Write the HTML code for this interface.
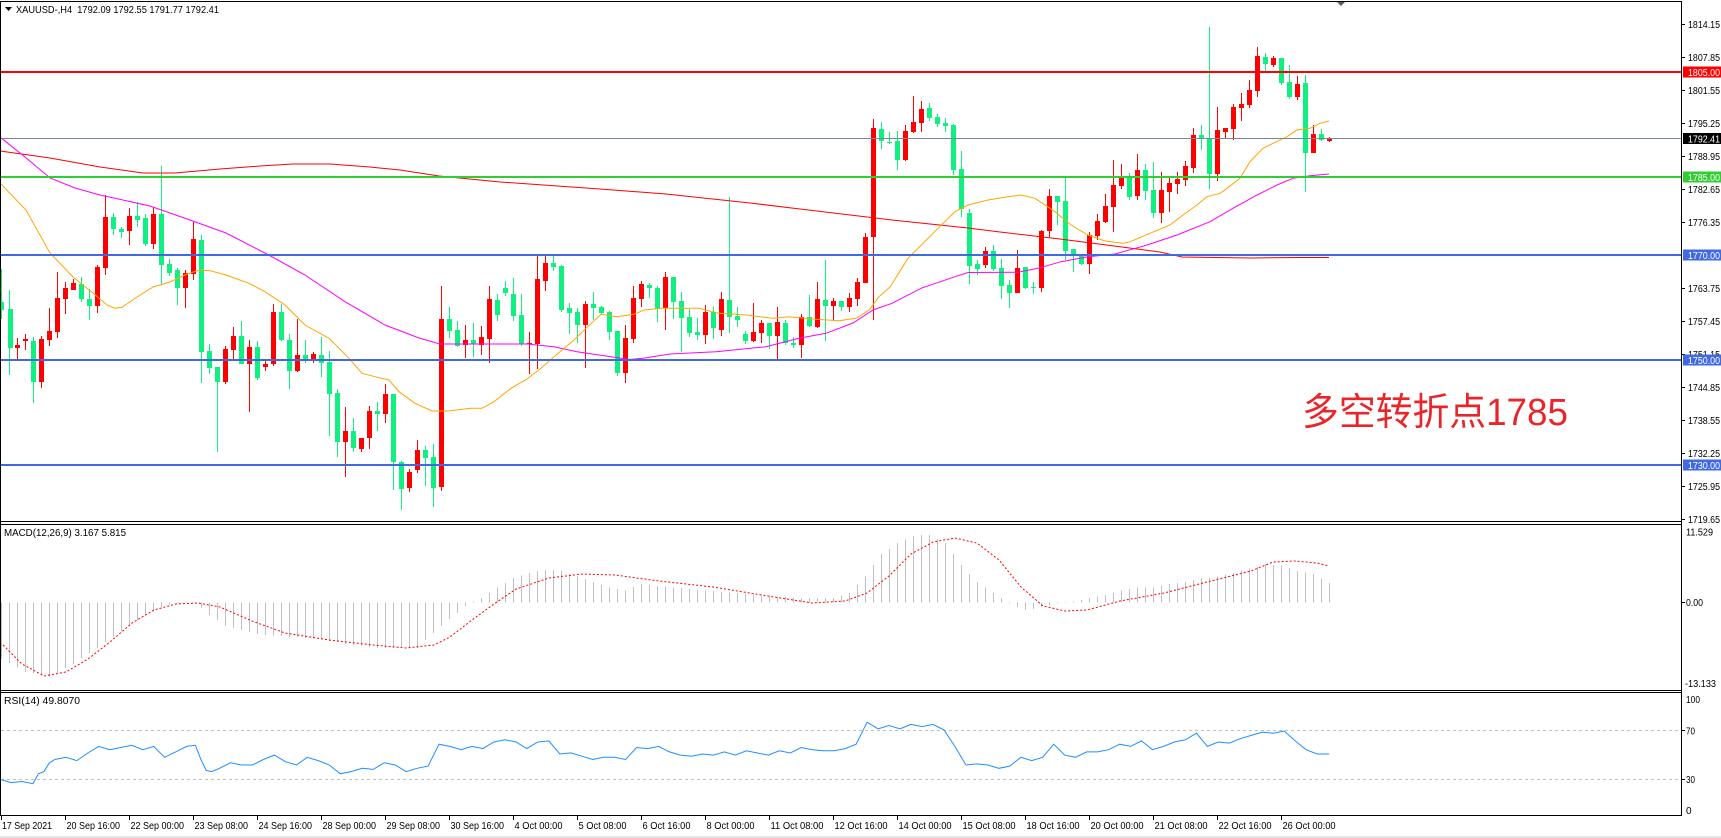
<!DOCTYPE html>
<html><head><meta charset="utf-8"><style>
html,body{margin:0;padding:0;background:#fff;}
svg{display:block;}
text{font-family:"Liberation Sans",sans-serif;font-size:10px;fill:#000;}
</style></head><body>
<svg width="1721" height="838" viewBox="0 0 1721 838" xmlns="http://www.w3.org/2000/svg">
<rect x="0" y="0" width="1721" height="838" fill="#fff"/>
<rect x="0" y="836" width="1721" height="2" fill="#e6e6e6"/>
<defs>
<clipPath id="cm"><rect x="1" y="2" width="1680" height="519"/></clipPath>
<clipPath id="cd"><rect x="1" y="525" width="1680" height="165"/></clipPath>
<clipPath id="cr"><rect x="1" y="693" width="1680" height="122"/></clipPath>
</defs>

<!-- MAIN PANE -->
<g clip-path="url(#cm)" shape-rendering="crispEdges">
<!-- green (down) candles -->
<path fill="none" stroke="#10F080" stroke-width="1" d="M1.5 269V319M9.5 290V375M33.5 337V403M81.5 277V302M89.5 289V320M113.5 213V235M121.5 227V238M137.5 202V227M145.5 214V246M161.5 166V285M169.5 259V276M177.5 268V305M201.5 235V383M209.5 344V374M217.5 367V452M241.5 321V364M257.5 341V380M281.5 304V341M289.5 334V389M305.5 340V363M321.5 337V377M329.5 351V436M337.5 389V457M353.5 418V452M377.5 402V431M393.5 394V490M401.5 461V510M425.5 446V486M433.5 444V507M449.5 307V338M457.5 321V347M473.5 323V357M497.5 294V321M505.5 281V296M513.5 278V321M521.5 294V346M553.5 256V271M561.5 265V312M569.5 303V334M577.5 308V343M593.5 292V320M601.5 306V314M609.5 311V340M617.5 331V376M649.5 283V298M657.5 286V322M673.5 277V319M681.5 292V352M689.5 309V337M697.5 318V340M713.5 307V339M729.5 197V333M737.5 307V327M745.5 331V344M769.5 323V349M785.5 320V345M793.5 337V348M809.5 295V327M825.5 260V341M841.5 301V311M881.5 122V149M889.5 132V144M897.5 131V170M929.5 103V121M937.5 114V127M945.5 118V132M953.5 124V175M961.5 151V217M969.5 209V284M977.5 260V275M993.5 245V271M1001.5 259V299M1009.5 280V308M1025.5 267V289M1033.5 282V294M1057.5 196V225M1065.5 177V260M1073.5 249V272M1081.5 256V265M1129.5 173V200M1145.5 164V200M1153.5 162V218M1201.5 125V150M1209.5 27V189M1265.5 53V71M1281.5 58V85M1289.5 65V99M1305.5 75V192M1321.5 129V141"/>
<path fill="#10F080" d="M-1 302h5v8h-5zM8 309h5v39h-5zM31 341h5v41h-5zM79 284h5v15h-5zM87 299h5v7h-5zM111 217h5v12h-5zM119 229h5v3h-5zM135 216h5v4h-5zM143 218h5v26h-5zM159 214h5v51h-5zM167 264h5v9h-5zM175 270h5v18h-5zM199 240h5v112h-5zM207 351h5v17h-5zM215 367h5v15h-5zM239 336h5v28h-5zM255 347h5v31h-5zM279 312h5v28h-5zM287 340h5v31h-5zM303 355h5v5h-5zM319 355h5v8h-5zM327 362h5v32h-5zM335 393h5v49h-5zM351 431h5v17h-5zM375 411h5v3h-5zM391 394h5v68h-5zM399 462h5v27h-5zM423 450h5v8h-5zM431 457h5v31h-5zM447 319h5v12h-5zM455 330h5v16h-5zM471 340h5v4h-5zM495 300h5v15h-5zM503 288h5v5h-5zM511 294h5v22h-5zM519 315h5v29h-5zM551 263h5v4h-5zM559 266h5v44h-5zM567 308h5v5h-5zM575 312h5v13h-5zM591 304h5v4h-5zM599 307h5v6h-5zM607 312h5v20h-5zM615 331h5v42h-5zM647 285h5v3h-5zM655 288h5v21h-5zM671 277h5v25h-5zM679 301h5v17h-5zM687 317h5v16h-5zM695 332h5v3h-5zM711 312h5v16h-5zM727 300h5v17h-5zM735 316h5v4h-5zM743 334h5v7h-5zM767 323h5v13h-5zM783 323h5v20h-5zM791 343h5v2h-5zM807 317h5v9h-5zM823 300h5v6h-5zM839 301h5v6h-5zM879 129h5v12h-5zM887 142h5v1h-5zM895 141h5v19h-5zM927 108h5v10h-5zM935 117h5v7h-5zM943 123h5v3h-5zM951 125h5v45h-5zM959 169h5v40h-5zM967 213h5v53h-5zM975 264h5v5h-5zM991 251h5v18h-5zM999 268h5v18h-5zM1007 285h5v8h-5zM1023 267h5v21h-5zM1031 287h5v1h-5zM1055 196h5v6h-5zM1063 201h5v50h-5zM1071 249h5v5h-5zM1079 256h5v8h-5zM1127 177h5v20h-5zM1143 170h5v21h-5zM1151 190h5v23h-5zM1199 135h5v4h-5zM1207 138h5v36h-5zM1263 57h5v7h-5zM1279 58h5v25h-5zM1287 82h5v15h-5zM1303 83h5v70h-5zM1319 134h5v6h-5z"/>
<!-- red (up) candles -->
<path fill="none" stroke="#FF0000" stroke-width="1" d="M17.5 338V359M25.5 334V350M41.5 336V388M49.5 308V346M57.5 272V338M65.5 282V314M73.5 279V290M97.5 265V313M105.5 195V275M129.5 208V245M153.5 207V249M185.5 270V308M193.5 222V280M225.5 346V384M233.5 327V359M249.5 340V412M265.5 361V371M273.5 304V366M297.5 319V372M313.5 352V363M345.5 407V477M361.5 438V452M369.5 406V449M385.5 384V423M409.5 469V492M417.5 440V473M441.5 286V491M465.5 325V358M481.5 326V355M489.5 286V363M529.5 332V374M537.5 255V369M545.5 255V291M585.5 301V368M625.5 325V383M633.5 286V343M641.5 281V307M665.5 272V330M705.5 305V344M721.5 292V336M753.5 303V342M761.5 320V343M777.5 307V359M801.5 314V358M817.5 282V328M833.5 298V320M849.5 293V312M857.5 278V306M865.5 233V283M873.5 119V320M905.5 125V161M913.5 96V133M921.5 101V132M985.5 247V268M1017.5 250V293M1041.5 230V292M1049.5 189V237M1089.5 232V274M1097.5 214V240M1105.5 194V223M1113.5 160V232M1121.5 164V189M1137.5 154V200M1161.5 172V223M1169.5 177V212M1177.5 172V194M1185.5 161V186M1193.5 128V173M1217.5 107V181M1225.5 128V139M1233.5 104V140M1241.5 93V121M1249.5 80V108M1257.5 47V97M1273.5 56V67M1297.5 76V100M1313.5 125V153M1329.5 137V142"/>
<path fill="#FF0000" d="M15 345h5v3h-5zM23 339h5v2h-5zM39 339h5v43h-5zM47 331h5v9h-5zM55 298h5v34h-5zM63 288h5v11h-5zM71 283h5v7h-5zM95 267h5v39h-5zM103 217h5v51h-5zM127 216h5v15h-5zM151 214h5v30h-5zM183 273h5v15h-5zM191 239h5v35h-5zM223 349h5v33h-5zM231 336h5v14h-5zM247 347h5v17h-5zM263 364h5v3h-5zM271 312h5v52h-5zM295 355h5v16h-5zM311 354h5v5h-5zM343 431h5v11h-5zM359 438h5v11h-5zM367 411h5v27h-5zM383 394h5v20h-5zM407 472h5v16h-5zM415 450h5v20h-5zM439 319h5v168h-5zM463 340h5v5h-5zM479 337h5v8h-5zM487 299h5v40h-5zM527 343h5v1h-5zM535 279h5v65h-5zM543 263h5v18h-5zM583 304h5v21h-5zM623 338h5v35h-5zM631 298h5v41h-5zM639 284h5v15h-5zM663 277h5v31h-5zM703 312h5v23h-5zM719 299h5v31h-5zM751 332h5v9h-5zM759 323h5v10h-5zM775 322h5v14h-5zM799 317h5v28h-5zM815 299h5v28h-5zM831 301h5v5h-5zM847 298h5v9h-5zM855 282h5v17h-5zM863 237h5v46h-5zM871 128h5v109h-5zM903 131h5v29h-5zM911 122h5v10h-5zM919 109h5v14h-5zM983 251h5v14h-5zM1015 268h5v25h-5zM1039 231h5v57h-5zM1047 196h5v35h-5zM1087 235h5v29h-5zM1095 221h5v15h-5zM1103 206h5v16h-5zM1111 185h5v22h-5zM1119 177h5v9h-5zM1135 170h5v26h-5zM1159 190h5v23h-5zM1167 183h5v9h-5zM1175 179h5v5h-5zM1183 166h5v14h-5zM1191 135h5v33h-5zM1215 130h5v44h-5zM1223 128h5v4h-5zM1231 107h5v22h-5zM1239 104h5v4h-5zM1247 90h5v15h-5zM1255 56h5v35h-5zM1271 58h5v7h-5zM1295 84h5v13h-5zM1311 134h5v19h-5zM1327 138h5v3h-5z"/>
</g>
<g clip-path="url(#cm)" fill="none" stroke-width="1">
<polyline stroke="#FF0000" points="0,151 50,158 100,167 143,173 175,173 220,169 260,166 293,164 330,164 370,167 400,170 439,176 500,182 600,189 666,194 750,203 800,209 892,220 968,228 1000,232 1060,239 1114,246 1160,252 1182,257 1250,258 1300,257.5 1329,257.5"/>
<polyline stroke="#FF00FF" points="0,137 25,157 50,178 75,188 100,195 150,206 190,220 226,233 268.7,255 305,275 345,301.7 385,325 419,338 440,344 527,344 554,346.7 577,351.7 611,356.7 630,359.5 645,358 670,354 716,351.7 766,346.7 799,338.3 826,333.3 853,323 873,310 892,303.3 921,288.3 955,276.7 968,272.5 1018,272.3 1038,268.3 1061,261.7 1088,256.7 1115,254 1147,245 1177,235 1210,221.7 1233,208.3 1257,195 1277,185 1293,178.3 1310,175.7 1329,174"/>
<polyline stroke="#FFA500" points="0,183 26,210 50,253 73,277 93,293 107,305 115,308.3 122,307.3 137,297 153,287 170,282 187,274 200,270 210,270.7 226,275 249,283.3 265,291.7 285,305 305,325 329,338.3 349,358.3 362,373.3 379,377.7 389,380 399,391.7 415,403.3 432,411 448,411 471,408.3 482,408.3 494,401.7 511,388.3 527,379 541,368.3 554,356.7 574,340 586,328.3 601,314.3 617,316.7 634,314.3 644,310 661,308.3 699,308.3 719,313.3 746,315 773,318.3 789,316.7 816,319.3 839,320.7 856,318.3 869,310 879,296.7 890,287 908,258.3 938,228.3 955,211.7 968,205 988,200 1008,196.7 1021,195 1035,198.3 1055,211.7 1071,225 1088,235 1105,241 1123,243.3 1130,241.7 1150,233.3 1170,225 1183,215 1197,205 1207,196.7 1220,193.3 1227,188.3 1240,178.3 1250,161.7 1263,148.3 1273,143.3 1287,136.7 1297,130 1310,128.3 1320,123.3 1329,121"/>
</g>
<!-- horizontal levels -->
<g shape-rendering="crispEdges">
<rect x="1" y="71" width="1681" height="2" fill="#FF0000"/>
<rect x="1" y="138" width="1681" height="1" fill="#778899"/>
<rect x="1" y="176" width="1681" height="2" fill="#32CD32"/>
<rect x="1" y="254" width="1681" height="2" fill="#4169E1"/>
<rect x="1" y="359" width="1681" height="2" fill="#4169E1"/>
<rect x="1" y="464" width="1681" height="2" fill="#4169E1"/>
</g>

<!-- header -->
<polygon points="5,7 12,7 8.5,11" fill="#000"/>
<text x="16" y="13" textLength="203" lengthAdjust="spacingAndGlyphs">XAUUSD-,H4&#160;&#160;1792.09 1792.55 1791.77 1792.41</text>
<polygon points="1336,1 1346,1 1341,6" fill="#606060"/>

<!-- annotation -->
<text x="1302" y="425" textLength="266" lengthAdjust="spacingAndGlyphs" style="font-family:'Liberation Sans','Noto Sans CJK SC',sans-serif;font-size:38px;fill:#E8262A;">多空转折点1785</text>

<!-- MACD PANE -->
<g clip-path="url(#cd)">
<path fill="none" stroke="#C0C0C0" stroke-width="1" shape-rendering="crispEdges" d="M1.5 602.5V659M9.5 602.5V663M17.5 602.5V667.5M25.5 602.5V672M33.5 602.5V673.5M41.5 602.5V675.5M49.5 602.5V677M57.5 602.5V673M65.5 602.5V668M73.5 602.5V664M81.5 602.5V658M89.5 602.5V653M97.5 602.5V648M105.5 602.5V642M113.5 602.5V637M121.5 602.5V631M129.5 602.5V626M137.5 602.5V620M145.5 602.5V615M153.5 602.5V611M161.5 602.5V607M169.5 602.5V605M177.5 602.5V603.5M185.5 602.5V601.5M193.5 602.5V601.5M201.5 602.5V608M209.5 602.5V615M217.5 602.5V620M225.5 602.5V626M233.5 602.5V628M241.5 602.5V630M249.5 602.5V632M257.5 602.5V634M265.5 602.5V635M273.5 602.5V635.5M281.5 602.5V636M289.5 602.5V637M297.5 602.5V637M305.5 602.5V638M313.5 602.5V638.5M321.5 602.5V639M329.5 602.5V641M337.5 602.5V642M345.5 602.5V644M353.5 602.5V645M361.5 602.5V646M369.5 602.5V647M377.5 602.5V648M385.5 602.5V648M393.5 602.5V648M401.5 602.5V648M409.5 602.5V648M417.5 602.5V648M425.5 602.5V640M433.5 602.5V633M441.5 602.5V626M449.5 602.5V619M457.5 602.5V613M465.5 602.5V606M473.5 602.5V601.5M481.5 602.5V598M489.5 602.5V593M497.5 602.5V587.5M505.5 602.5V583M513.5 602.5V578M521.5 602.5V575.5M529.5 602.5V573M537.5 602.5V571M545.5 602.5V570M553.5 602.5V570M561.5 602.5V571M569.5 602.5V574M577.5 602.5V576.5M585.5 602.5V579M593.5 602.5V582M601.5 602.5V585M609.5 602.5V587.5M617.5 602.5V589M625.5 602.5V590.5M633.5 602.5V587M641.5 602.5V584M649.5 602.5V585M657.5 602.5V586M665.5 602.5V586.5M673.5 602.5V587.5M681.5 602.5V588M689.5 602.5V589M697.5 602.5V590M705.5 602.5V590.5M713.5 602.5V591M721.5 602.5V592M729.5 602.5V592.5M737.5 602.5V593M745.5 602.5V593.5M753.5 602.5V594.5M761.5 602.5V595.5M769.5 602.5V596M777.5 602.5V597M785.5 602.5V597M793.5 602.5V597.5M801.5 602.5V598M809.5 602.5V598M817.5 602.5V598M825.5 602.5V598M833.5 602.5V598M841.5 602.5V595.5M849.5 602.5V593M857.5 602.5V585M865.5 602.5V576.5M873.5 602.5V565M881.5 602.5V554M889.5 602.5V549M897.5 602.5V543M905.5 602.5V539.5M913.5 602.5V536M921.5 602.5V535M929.5 602.5V535M937.5 602.5V539M945.5 602.5V543M953.5 602.5V554M961.5 602.5V565M969.5 602.5V574M977.5 602.5V582M985.5 602.5V587.5M993.5 602.5V593M1001.5 602.5V598M1009.5 602.5V603.5M1017.5 602.5V607M1025.5 602.5V610M1033.5 602.5V609M1041.5 602.5V607M1049.5 602.5V605.5M1057.5 602.5V603.5M1065.5 602.5V603M1073.5 602.5V601.5M1081.5 602.5V600M1089.5 602.5V598M1097.5 602.5V596.5M1105.5 602.5V595M1113.5 602.5V593M1121.5 602.5V590.5M1129.5 602.5V589M1137.5 602.5V587.5M1145.5 602.5V587.5M1153.5 602.5V587.5M1161.5 602.5V585.5M1169.5 602.5V584M1177.5 602.5V583M1185.5 602.5V582M1193.5 602.5V580M1201.5 602.5V578.5M1209.5 602.5V577.5M1217.5 602.5V576.5M1225.5 602.5V574.5M1233.5 602.5V573M1241.5 602.5V570.5M1249.5 602.5V568.5M1257.5 602.5V566.5M1265.5 602.5V564M1273.5 602.5V565M1281.5 602.5V565.5M1289.5 602.5V568M1297.5 602.5V571M1305.5 602.5V572.5M1313.5 602.5V574M1321.5 602.5V578.5M1329.5 602.5V583"/>
<polyline fill="none" stroke="#FF0000" stroke-width="1" stroke-dasharray="2,2" points="3,645 22,664 44,676 66,672 88,659 110,642 132,623 154,610 176,604 198,603 220,607 252,621 285,633 329,640 373,645 406,648 434,645 450,637 472,620 494,604 516,589 549,578 582,574 615,575 659,581 713,587 768,596 812,603 845,601 867,593 889,576 911,554 933,542 955,538 977,543 999,560 1021,587 1043,606 1065,611 1087,610 1120,601 1164,593 1207,582 1251,571 1273,562 1295,561 1317,563 1329,566"/>
</g>
<text x="4" y="536" textLength="122" lengthAdjust="spacingAndGlyphs">MACD(12,26,9) 3.167 5.815</text>

<!-- RSI PANE -->
<g clip-path="url(#cr)">
<line x1="1" y1="730.5" x2="1681" y2="730.5" stroke="#C0C0C0" stroke-width="1" stroke-dasharray="3,3" shape-rendering="crispEdges"/>
<line x1="1" y1="779.5" x2="1681" y2="779.5" stroke="#C0C0C0" stroke-width="1" stroke-dasharray="3,3" shape-rendering="crispEdges"/>
<polyline fill="none" stroke="#1E90FF" stroke-width="1" points="0,779.3 11,782.6 22,781.5 32.9,783.7 38.4,773.8 43.9,771.6 49.4,762.8 54.9,759.5 65.9,757.3 76.8,760.6 87.8,753 98.8,746.4 109.8,749.7 120.7,747.5 131.7,745.3 142.7,749.7 153.7,746.4 164.6,757.3 175.6,751.9 186.6,746.4 195.4,745.3 200.9,759.5 206.3,770.5 211.8,771.6 219.5,768.3 230.5,762.8 241.5,765 252.4,765 263.4,759.5 274.4,755.1 285.4,761.7 296.4,765 307.3,757.3 318.3,760.6 329.3,765 340.3,773.8 351.2,771.6 362.2,768.3 373.2,769.4 384.2,762.8 395.1,765 406.1,771.6 417.1,768.3 428.1,766.1 439,744.2 450,746.4 461,749.7 472,746.4 482.9,748.6 493.9,742 504.9,739.8 515.9,742 526.8,748.6 537.8,742 548.8,740.9 559.8,754 570.8,752.9 581.7,756.2 592.7,759.5 603.7,757.3 614.7,757.3 625.6,759.5 636.6,747.5 647.6,748.6 658.6,746.4 669.5,751.9 680.5,755.1 691.5,756.2 702.5,754 713.4,755.1 724.4,751.9 735.4,755.1 746.4,750.8 757.3,753 768.3,755.1 779.3,750.8 790.3,753 801.2,747.5 812.2,749.7 823.2,750.8 834.2,750.8 845.2,748.6 856.1,744.2 867.1,722.2 878.1,728.8 889,725.5 900,728.8 911,724.4 922,726.6 933,724.4 943.9,729.9 954.9,746.4 965.9,765 976.9,763.9 987.8,765 998.8,768.3 1009.8,766.1 1020.8,757.3 1031.7,760.6 1042.7,757.3 1053.7,744.2 1064.7,755.1 1075.6,757.3 1086.6,751.9 1097.6,751.9 1108.6,749.7 1119.6,744.2 1130.5,746.4 1141.5,740.9 1152.5,749.7 1163.5,746.4 1174.4,742 1185.4,739.8 1196.4,733.2 1207.4,746.4 1218.3,742 1229.3,743.1 1240.3,738.7 1251.3,735.4 1262.3,732.1 1273.2,733.2 1284.2,731 1295.2,740.9 1306.1,749.7 1317.1,754 1329.2,754"/>
</g>
<text x="4" y="704" textLength="76" lengthAdjust="spacingAndGlyphs">RSI(14) 49.8070</text>

<!-- frames -->
<g stroke="#000" stroke-width="1" fill="none" shape-rendering="crispEdges">
<line x1="0" y1="1.5" x2="1682" y2="1.5"/>
<line x1="0.5" y1="1" x2="0.5" y2="816"/>
<line x1="1681.5" y1="1" x2="1681.5" y2="816"/>
<line x1="0" y1="521.5" x2="1682" y2="521.5"/>
<line x1="0" y1="524.5" x2="1682" y2="524.5"/>
<line x1="0" y1="690.5" x2="1682" y2="690.5"/>
<line x1="0" y1="692.5" x2="1682" y2="692.5"/>
<line x1="0" y1="815.5" x2="1682" y2="815.5"/>
</g>

<!-- price axis ticks -->
<path stroke="#000" stroke-width="1" shape-rendering="crispEdges" d="M1682 24.5h3M1682 57.5h3M1682 90.5h3M1682 123.5h3M1682 156.5h3M1682 189.5h3M1682 222.5h3M1682 288.5h3M1682 321.5h3M1682 354.5h3M1682 387.5h3M1682 420.5h3M1682 453.5h3M1682 486.5h3M1682 519.5h3M1682 602.5h3M1682 730.5h3M1682 779.5h3"/>
<g>
<text x="1688" y="28" textLength="32" lengthAdjust="spacingAndGlyphs">1814.15</text>
<text x="1688" y="61" textLength="32" lengthAdjust="spacingAndGlyphs">1807.85</text>
<text x="1688" y="94" textLength="32" lengthAdjust="spacingAndGlyphs">1801.55</text>
<text x="1688" y="127" textLength="32" lengthAdjust="spacingAndGlyphs">1795.25</text>
<text x="1688" y="160" textLength="32" lengthAdjust="spacingAndGlyphs">1788.95</text>
<text x="1688" y="193" textLength="32" lengthAdjust="spacingAndGlyphs">1782.65</text>
<text x="1688" y="226" textLength="32" lengthAdjust="spacingAndGlyphs">1776.35</text>
<text x="1688" y="292" textLength="32" lengthAdjust="spacingAndGlyphs">1763.75</text>
<text x="1688" y="325" textLength="32" lengthAdjust="spacingAndGlyphs">1757.45</text>
<text x="1688" y="358" textLength="32" lengthAdjust="spacingAndGlyphs">1751.15</text>
<text x="1688" y="391" textLength="32" lengthAdjust="spacingAndGlyphs">1744.85</text>
<text x="1688" y="424" textLength="32" lengthAdjust="spacingAndGlyphs">1738.55</text>
<text x="1688" y="457" textLength="32" lengthAdjust="spacingAndGlyphs">1732.25</text>
<text x="1688" y="490" textLength="32" lengthAdjust="spacingAndGlyphs">1725.95</text>
<text x="1688" y="523" textLength="32" lengthAdjust="spacingAndGlyphs">1719.65</text>
</g>
<!-- level label boxes -->
<g shape-rendering="crispEdges">
<rect x="1683" y="66.5" width="38" height="11" fill="#FF0000"/>
<rect x="1683" y="133" width="38" height="11" fill="#000"/>
<rect x="1683" y="171.5" width="38" height="11" fill="#32CD32"/>
<rect x="1683" y="249.5" width="38" height="11" fill="#4169E1"/>
<rect x="1683" y="354.5" width="38" height="11" fill="#4169E1"/>
<rect x="1683" y="459.5" width="38" height="11" fill="#4169E1"/>
</g>
<g style="fill:#fff">
<text x="1688" y="76" textLength="32" lengthAdjust="spacingAndGlyphs" style="fill:#fff">1805.00</text>
<text x="1688" y="142.5" textLength="32" lengthAdjust="spacingAndGlyphs" style="fill:#fff">1792.41</text>
<text x="1688" y="181" textLength="32" lengthAdjust="spacingAndGlyphs" style="fill:#fff">1785.00</text>
<text x="1688" y="259" textLength="32" lengthAdjust="spacingAndGlyphs" style="fill:#fff">1770.00</text>
<text x="1688" y="364" textLength="32" lengthAdjust="spacingAndGlyphs" style="fill:#fff">1750.00</text>
<text x="1688" y="469" textLength="32" lengthAdjust="spacingAndGlyphs" style="fill:#fff">1730.00</text>
</g>
<!-- MACD / RSI axis -->
<text x="1686" y="535.5" textLength="27" lengthAdjust="spacingAndGlyphs">11.529</text>
<text x="1686" y="606" textLength="17" lengthAdjust="spacingAndGlyphs">0.00</text>
<text x="1685" y="687" textLength="31" lengthAdjust="spacingAndGlyphs">-13.133</text>
<text x="1686" y="703" textLength="14" lengthAdjust="spacingAndGlyphs">100</text>
<text x="1686" y="734.5" textLength="9" lengthAdjust="spacingAndGlyphs">70</text>
<text x="1686" y="783" textLength="9" lengthAdjust="spacingAndGlyphs">30</text>
<text x="1686" y="814">0</text>

<!-- time axis -->
<path stroke="#000" stroke-width="1" shape-rendering="crispEdges" d="M1.5 816v4M65.5 816v4M129.5 816v4M193.5 816v4M257.5 816v4M321.5 816v4M385.5 816v4M449.5 816v4M513.5 816v4M577.5 816v4M641.5 816v4M705.5 816v4M769.5 816v4M833.5 816v4M897.5 816v4M961.5 816v4M1025.5 816v4M1089.5 816v4M1153.5 816v4M1217.5 816v4M1281.5 816v4"/>
<g>
<text x="2" y="829" textLength="50" lengthAdjust="spacingAndGlyphs">17 Sep 2021</text>
<text x="66.5" y="829" textLength="53.5" lengthAdjust="spacingAndGlyphs">20 Sep 16:00</text>
<text x="130.5" y="829" textLength="53.5" lengthAdjust="spacingAndGlyphs">22 Sep 00:00</text>
<text x="194.5" y="829" textLength="53.5" lengthAdjust="spacingAndGlyphs">23 Sep 08:00</text>
<text x="258.5" y="829" textLength="53.5" lengthAdjust="spacingAndGlyphs">24 Sep 16:00</text>
<text x="322.5" y="829" textLength="53.5" lengthAdjust="spacingAndGlyphs">28 Sep 00:00</text>
<text x="386.5" y="829" textLength="53.5" lengthAdjust="spacingAndGlyphs">29 Sep 08:00</text>
<text x="450.5" y="829" textLength="53.5" lengthAdjust="spacingAndGlyphs">30 Sep 16:00</text>
<text x="514.5" y="829" textLength="48" lengthAdjust="spacingAndGlyphs">4 Oct 00:00</text>
<text x="578.5" y="829" textLength="48" lengthAdjust="spacingAndGlyphs">5 Oct 08:00</text>
<text x="642.5" y="829" textLength="48" lengthAdjust="spacingAndGlyphs">6 Oct 16:00</text>
<text x="706.5" y="829" textLength="48" lengthAdjust="spacingAndGlyphs">8 Oct 00:00</text>
<text x="770.5" y="829" textLength="53" lengthAdjust="spacingAndGlyphs">11 Oct 08:00</text>
<text x="834.5" y="829" textLength="53" lengthAdjust="spacingAndGlyphs">12 Oct 16:00</text>
<text x="898.5" y="829" textLength="53" lengthAdjust="spacingAndGlyphs">14 Oct 00:00</text>
<text x="962.5" y="829" textLength="53" lengthAdjust="spacingAndGlyphs">15 Oct 08:00</text>
<text x="1026.5" y="829" textLength="53" lengthAdjust="spacingAndGlyphs">18 Oct 16:00</text>
<text x="1090.5" y="829" textLength="53" lengthAdjust="spacingAndGlyphs">20 Oct 00:00</text>
<text x="1154.5" y="829" textLength="53" lengthAdjust="spacingAndGlyphs">21 Oct 08:00</text>
<text x="1218.5" y="829" textLength="53" lengthAdjust="spacingAndGlyphs">22 Oct 16:00</text>
<text x="1282.5" y="829" textLength="53" lengthAdjust="spacingAndGlyphs">26 Oct 00:00</text>
</g>
</svg>
</body></html>
